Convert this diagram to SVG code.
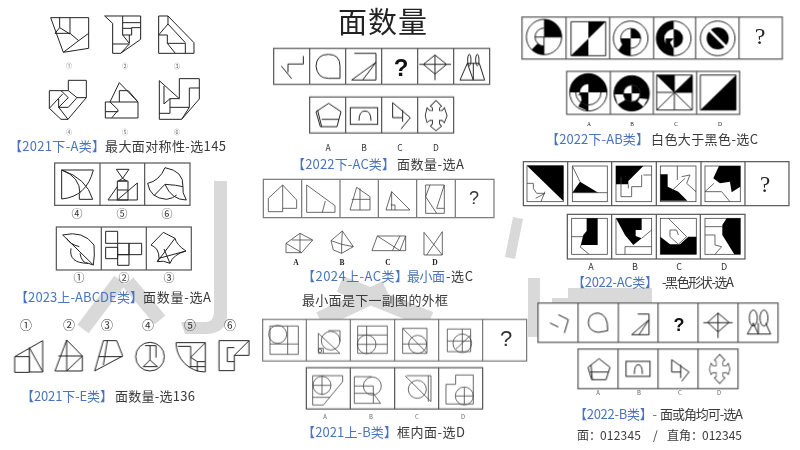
<svg xmlns="http://www.w3.org/2000/svg" width="800" height="450" viewBox="0 0 800 450">
<defs>
<filter id="soft" x="-2%" y="-2%" width="104%" height="104%"><feGaussianBlur stdDeviation="0.35"/></filter>
</defs>
<style>
.wm{fill:#d9d9d9;stroke:none}
.wl{fill:none;stroke:#d9d9d9;stroke-width:14}
.f{fill:none;stroke:#222;stroke-width:3;stroke-linejoin:miter}
.thin{fill:none;stroke:#444;stroke-width:2.4}
.pan{fill:#fff;stroke:#555;stroke-width:3.6}
.div{fill:none;stroke:#555;stroke-width:3.6}
.k{fill:#000;stroke:none}
.w{fill:#fff;stroke:none}
.fk{fill:#fff;stroke:#222;stroke-width:3}
text{font-family:"Noto Sans CJK SC","Liberation Sans",sans-serif}
.b{fill:#4a74bd;font-size:13px}
.d{fill:#3a3a3a;font-size:13px}
.n{fill:#333;font-size:11px;text-anchor:middle}
.s{fill:#666;text-anchor:middle;font-size:6px}
.serif{font-family:"Liberation Serif",serif;fill:#222;text-anchor:middle}
</style>
<rect width="800" height="450" fill="#fff"/>
<g id="watermark">
<path class="wl" d="M120 280L83 329M128 282L160 320"/>
<path class="wl" style="stroke-width:17" d="M340 284L430 320M386 289L320 320"/>
<path class="wm" d="M214 181H227V315Q227 334 205 334H185L181 322H205Q214 322 214 312Z"/>
<path class="wm" d="M513 217L523 219L515 259L505 257Z"/>
<rect class="wm" x="528" y="278" width="12" height="59"/>
<path class="wm" d="M568 288H652V303H552V298H568Z"/>
</g>
<g filter="url(#soft)">
<g id="panel-2021-A" transform="scale(.3333)">
<path class="f" d="M152 53H266V145L190 157ZM179 53V83L210 102V53M165 100L179 83M165 100H210L236 122M190 157L236 122L266 100"/>
<path class="f" d="M314 48H422V118L362 160H338V70ZM368 48V105H395V83H422M368 68H422M368 85H395M368 105L388 130V105M338 132H388L362 160"/>
<path class="f" d="M476 48H504L582 128V160H476ZM504 48V72L476 105H502V130H556V160M504 72L556 128M502 130L526 160"/>
<path class="f" d="M148 272H205V241H259V293L204 358H183L148 325ZM205 272L231 293H259M148 325L188 282M183 272L205 293L176 322H205L231 293M176 296V322L204 358"/>
<path class="f" d="M358 248L414 306V354H316V306H330ZM358 272V306M358 272H385L414 306M330 306H414M316 335H355M330 306L355 330L335 354"/>
<path class="f" d="M478 242V358H545L598 297V236H538V296H510L492 312V258M478 242L538 296M510 296V340H478M510 322H568V264H598M568 322L545 358"/>
</g>
<g id="panel-2023">
<g transform="translate(0,155) scale(.3333)">
<rect class="pan" x="164" y="24" width="406" height="127"/><path class="div" d="M300 24V151M434 24V151"/>
<rect class="pan" x="169" y="216" width="405" height="129"/><path class="div" d="M304 216V345M439 216V345"/>
<path class="f" d="M185 45H280M185 45V132Q260 125 280 45M185 45Q260 70 278 133H238V115M185 45Q240 65 240 115"/>
<path class="f" d="M349 43H387L368 70ZM368 70L355 78H380ZM352 78H384V135H352ZM352 105H384M324 135H412V84L352 135M324 135L352 95"/>
<path class="f" d="M443 85Q478 78 495 38Q552 48 549 95Q545 112 559 135Q515 135 495 88L462 122M443 85Q450 130 500 133Q520 130 530 120M495 88Q530 90 549 95"/>
<path class="f" d="M188 240Q250 225 282 270Q285 300 280 330ZM213 280Q205 325 265 325L280 330M200 250Q210 268 238 275M240 295Q245 325 265 325"/>
<path class="f" d="M317 229H353V265H317ZM353 265H387V299H353ZM387 265H425V299H387ZM317 277H353V311H317ZM353 299H387V331H353Z"/>
<path class="f" d="M490 232L525 250Q530 270 558 288Q520 298 510 325Q490 315 472 320L525 250M453 270L490 232M453 270Q478 280 477 310L472 320M477 310L558 288M492 282L510 325"/>
</g>
</g>
<g id="panel-2021-E" transform="translate(0,305) scale(.3333)">
<path class="f" d="M44 155H88V202H44ZM44 155L128 107V201H88V128M88 128L128 200"/>
<path class="f" d="M200 105L247 153V198H165ZM200 105V198M175 153H247M200 198L247 153"/>
<path class="f" d="M310 107H350L368 153L284 198ZM322 107L310 180M295 155H368"/>
<circle class="f" cx="450" cy="155" r="43"/>
<path class="f" d="M435 122H468M450 122V165M468 122V158M450 165L430 185H472Z"/>
<path class="f" d="M528 113H616V201A88 88 0 0 1 528 113ZM534 124H572V157M616 113L572 157L592 170H616M592 170V200M568 185H616M572 157V185"/>
<path class="f" d="M657 107H747V151H703V197H657ZM747 107L703 151M682 128H703M682 128V170H703"/>
</g>
<g id="panel-2022-AC-top" transform="translate(260,0) scale(.3333)">
<rect class="pan" x="41" y="145" width="648" height="108"/><path class="div" d="M149 145V253M257 145V253M365 145V253M473 145V253M581 145V253"/>
<rect class="pan" x="149" y="291" width="432" height="108"/><path class="div" d="M257 291V399M365 291V399M473 291V399"/>
<path class="f" d="M130 168V192H84V217M64 198L95 236"/>
<path class="f" d="M205 163Q170 163 168 198Q172 235 205 235H240V198Q240 163 205 163Z"/>
<path class="f" d="M283 160H348V240H275L348 187M308 240L348 187"/>
<path class="f" d="M525 165L560 193L525 222L490 193ZM478 193H573M525 165V240"/>
<path class="f" d="M600 240L622 190H658L674 240ZM622 190L640 240V190"/>
<ellipse class="f" cx="628" cy="180" rx="5" ry="17"/><ellipse class="f" cx="652" cy="180" rx="5" ry="17"/>
<path class="f" d="M206 310L243 335L231 380H181L168 335ZM173 331L185 380M185 358H237"/>
<rect class="f" x="271" y="323" width="82" height="50"/>
<path class="f" d="M297 362Q297 333 315 333Q333 333 333 362"/>
<path class="f" d="M398 308V353H428M398 308L451 353L423 387M428 330V365"/>
<path d="M528 306L540 318L535 322V335H548L552 330L558 347L552 362L548 358H535V372L540 378L528 388L516 378L521 372V358H508L503 362L499 347L503 330L508 335H521V322L516 318Z" fill="none" stroke="#222" stroke-width="9"/>
<path d="M528 306L540 318L535 322V335H548L552 330L558 347L552 362L548 358H535V372L540 378L528 388L516 378L521 372V358H508L503 362L499 347L503 330L508 335H521V322L516 318Z" fill="#fff" stroke="#fff" stroke-width="4"/>
</g>
<g id="panel-2024" transform="translate(260,175) scale(.3333)">
<rect class="pan" x="10" y="13" width="692" height="115" style="stroke:#777"/><path class="div" style="stroke:#777" d="M125 13V128M240 13V128M355 13V128M470 13V128M586 13V128"/>
<path class="thin" d="M25 110V70L68 30L110 75V100H68V30M25 110H68V100"/>
<path class="thin" d="M140 30L225 92V112H140ZM196 78L187 112"/>
<path class="thin" d="M290 37L330 65V105H270ZM300 40V105M275 73H330"/>
<path class="thin" d="M395 50L450 105H378ZM395 50V105M392 90H405V105"/>
<path class="thin" d="M497 30H553V115H497ZM510 30L497 65L530 115M553 30L530 100H553"/>
<path class="thin" d="M78 205L120 175L158 195L125 233H78ZM78 205L125 233M120 175V233M95 195H158"/>
<path class="thin" d="M213 197L247 168L280 215L245 235L220 225ZM213 197L245 208L247 168M245 208V235M245 208L280 215"/>
<path class="thin" d="M352 183H437V227H336ZM352 183L420 227M420 183L397 227M437 183L420 227"/>
<path class="thin" d="M492 172V240H547V170M492 172L547 240M547 170L500 240"/>
</g>
<g id="panel-2021-B" transform="translate(260,310) scale(.3333)">
<rect class="pan" x="8" y="28" width="792" height="125" style="stroke:#777"/><path class="div" style="stroke:#777" d="M139 28V153M271 28V153M404 28V153M536 28V153M668 28V153"/>
<rect class="pan" x="139" y="173" width="529" height="124"/><path class="div" d="M271 173V297M404 173V297M536 173V297"/>
<path class="thin" d="M30 48H115V133H30ZM30 102H115M83 48V133"/><circle class="thin" cx="53" cy="73" r="27"/>
<path class="thin" d="M175 70L240 130H175ZM175 115H190V130M205 62H240V95"/><circle class="thin" cx="212" cy="92" r="28"/><circle class="thin" cx="180" cy="122" r="5"/>
<path class="thin" d="M293 48H382V130H293ZM293 75H382M320 48V130M293 103H382"/><circle class="thin" cx="320" cy="103" r="28"/>
<path class="thin" d="M428 55H501V130H428ZM428 55L500 128M428 102H500"/><circle class="thin" cx="473" cy="103" r="27"/>
<path class="thin" d="M562 57H632V125H562ZM562 93H632M607 57V125M587 118L632 75"/><circle class="thin" cx="607" cy="100" r="28"/>
<path class="thin" d="M158 197H248V215L190 285H158ZM158 226H213M186 197V255M158 262H210"/><circle class="thin" cx="186" cy="226" r="27"/>
<path class="thin" d="M283 200H335M283 200V280H345M283 228H340V280M283 250H340M340 250L362 280H345"/><circle class="thin" cx="337" cy="228" r="27"/>
<path class="thin" d="M435 197L513 275M440 197H513V275M505 197V275"/><circle class="thin" cx="472" cy="238" r="27"/>
<path class="thin" d="M558 282V223H587V195H640V282ZM587 258H640M613 232V282"/><circle class="thin" cx="613" cy="258" r="27"/>
</g>
<g id="panel-2022-AB" transform="translate(515,5) scale(.3333)">
<rect class="pan" x="21" y="36" width="781" height="126"/><path class="div" d="M153 36V162M284 36V162M416 36V162M542 36V162M672 36V162"/>
<rect class="pan" x="155" y="199" width="519" height="129"/><path class="div" d="M286 199V328M415 199V328M545 199V328"/>
<circle class="f" cx="87" cy="96" r="53"/><path class="k" d="M87 96V43A53 53 0 0 1 140 96ZM87 149A53 53 0 0 1 50 134L68 115A27 27 0 0 0 87 123Z"/>
<circle class="f" cx="87" cy="96" r="27" style="stroke-dasharray:85 85;stroke-dashoffset:-42"/><path class="f" d="M87 96V149M87 96H140M60 96H87"/>
<path class="f" d="M168 50H272V152H168Z"/><path class="k" d="M220 50H272L168 152H220Z"/>
<circle class="f" cx="347" cy="100" r="52"/><circle class="f" cx="347" cy="100" r="30"/>
<path class="k" d="M347 100V70A30 30 0 0 1 377 100ZM347 100H317A30 30 0 0 0 322 118L310 136Q325 152 347 152V100Z"/>
<circle class="f" cx="476" cy="100" r="52"/>
<path class="k" d="M476 48A52 52 0 0 0 476 152V128A28 28 0 0 1 476 72ZM476 72A28 28 0 0 1 476 128Z"/>
<path class="k" d="M452 100H476L465 112L474 128H452Z"/>
<circle class="f" cx="608" cy="100" r="52"/><circle class="k" cx="608" cy="100" r="33"/>
<path d="M578 70L638 130" stroke="#fff" stroke-width="8" fill="none"/>
<circle class="f" cx="220" cy="262" r="56"/>
<path class="k" d="M164 262A56 56 0 0 1 276 262ZM195 262H220V318L190 305L200 285Z"/>
<path class="w" d="M220 262V237A25 25 0 0 0 195 262Z"/><path d="M190 272L220 262L195 262Z" class="k"/>
<path class="f" d="M182 262A38 38 0 0 0 258 262"/>
<circle class="f" cx="350" cy="265" r="53"/><circle cx="350" cy="265" r="39" fill="none" stroke="#000" stroke-width="28"/>
<path class="w" d="M299 268H326L330 285L308 298ZM374 280L398 282L385 305L368 290Z"/>
<circle class="fk" cx="350" cy="265" r="25"/><path class="k" d="M350 265V240A25 25 0 0 1 375 265ZM350 265H325A25 25 0 0 0 350 290Z"/>
<path class="f" d="M425 210H532V315H425ZM425 315L532 210M425 210L532 315M478 210V315M425 262H532"/>
<path class="k" d="M425 210H478V262ZM532 210V262H478Z"/>
<path class="f" d="M556 210H663V315H556Z"/><path class="k" d="M663 210V315H556Z"/>
</g>
<g id="panel-2022-AC" transform="translate(515,155) scale(.3333)">
<rect class="pan" x="25" y="20" width="797" height="132"/><path class="div" d="M158 20V152M290 20V152M424 20V152M558 20V152M690 20V152"/>
<rect class="pan" x="157" y="178" width="533" height="134"/><path class="div" d="M290 178V312M424 178V312M556 178V312"/>
<g class="thin">
<rect x="36" y="32" width="109" height="108"/><rect x="172" y="33" width="105" height="107"/><rect x="303" y="33" width="107" height="107"/><rect x="436" y="33" width="107" height="107"/><rect x="570" y="33" width="106" height="107"/>
<rect x="170" y="190" width="107" height="108"/><rect x="303" y="190" width="107" height="108"/><rect x="436" y="190" width="108" height="108"/><rect x="570" y="190" width="106" height="108"/>
</g>
<path class="k" d="M36 32H145V138Z"/><path class="thin" d="M36 85H55V100L65 115H90L62 130M90 110L78 140"/>
<path class="k" d="M195 80L250 113H172Z"/><path class="thin" d="M172 113H277M172 33L195 80"/>
<path class="k" d="M303 33H385L340 78V88H303Z"/><path class="thin" d="M385 60H410M380 60V95H350V125H318V67M340 88V100"/>
<path class="k" d="M436 58H458V95L490 110L517 137H436Z"/><path class="thin" d="M487 33V75M500 65L525 60L515 85L543 110M470 108L510 70"/>
<path class="k" d="M612 33H676V95L650 112L645 80L615 85L595 70Z"/><path class="thin" d="M570 110L597 85M570 110H620L645 140"/>
<path class="k" d="M215 190H248V270H200L195 280L205 240L215 228Z"/><path class="thin" d="M170 245H205M195 275L222 298"/>
<path class="k" d="M303 190H380V225H362V243L380 250L355 270L330 240Z"/><path class="thin" d="M330 275H410M330 275V298M380 250L410 225"/>
<path class="k" d="M436 245L465 268H495L520 245H544V298H436Z"/><path class="thin" d="M460 190L515 245L490 268L465 245V225H485L490 240"/>
<path class="k" d="M635 190H676V298H658L622 240V210Z"/><path class="thin" d="M570 215H622M570 240H600V270L620 275L600 298"/>
</g>
<g id="panel-2022-B" transform="translate(515,298) scale(.3333)">
<rect class="pan" x="69" y="15" width="720" height="118"/><path class="div" d="M189 15V133M310 15V133M429 15V133M549 15V133M669 15V133"/>
<rect class="pan" x="189" y="153" width="480" height="119"/><path class="div" d="M309 153V272M429 153V272M549 153V272"/>
<path class="f" d="M105 75L130 87M130 50L160 65L148 105"/>
<path class="f" d="M250 45Q220 45 220 75Q222 100 250 103L278 98Q280 50 250 45Z"/>
<path class="f" d="M368 48H402V110H350L402 65M372 110L402 65"/>
<path class="f" d="M609 45L642 73L609 102L578 73ZM565 74H653M609 45V120"/>
<ellipse class="f" cx="715" cy="60" rx="12" ry="24"/><ellipse class="f" cx="747" cy="60" rx="12" ry="24"/>
<path class="f" d="M697 108L715 75L730 108ZM730 108V75M730 108H767L752 75"/>
<path class="f" d="M252 182L285 208L273 245H230L219 208ZM225 222H280M228 200L232 245"/>
<rect class="f" x="333" y="190" width="72" height="45"/><path class="f" d="M358 228Q358 200 370 200Q382 200 382 228"/>
<path class="f" d="M470 185V222H497M470 185L522 222L500 250M497 200V240"/>
<path d="M614 172L627 186L622 190V205H635L639 200L643 213L639 226L635 222H622V236L627 240L614 254L601 240L606 236V222H593L589 226L585 213L589 200L593 205H606V190L601 186Z" fill="#fff" stroke="#222" stroke-width="6"/>
<path d="M614 172L627 186L622 190V205H635L639 200L643 213L639 226L635 222H622V236L627 240L614 254L601 240L606 236V222H593L589 226L585 213L589 200L593 205H606V190L601 186Z" fill="#fff" stroke="#fff" stroke-width="2"/>
</g>
</g>
<g id="labels">
<text x="338" y="33" font-size="29" fill="#222" textLength="89">面数量</text>
<text class="s" x="69" y="68">①</text><text class="s" x="125" y="68">②</text><text class="s" x="177" y="68">③</text>
<text class="s" x="69" y="134">④</text><text class="s" x="125" y="134">⑤</text><text class="s" x="177" y="134">⑥</text>
<text class="b" x="9" y="151" textLength="96">【2021下-A类】</text><text class="d" x="105" y="151" textLength="121">最大面对称性-选145</text>
<text class="n" x="77" y="218">④</text><text class="n" x="122" y="218">⑤</text><text class="n" x="167" y="218">⑥</text>
<text class="n" x="79" y="282">①</text><text class="n" x="124" y="282">②</text><text class="n" x="169" y="282">③</text>
<text class="b" x="15" y="302" textLength="128">【2023上-ABCDE类】</text><text class="d" x="143" y="302" textLength="68">面数量-选A</text>
<g><text class="n" x="26" y="330" style="font-size:12px">①</text><text class="n" x="69" y="330" style="font-size:12px">②</text><text class="n" x="107" y="330" style="font-size:12px">③</text><text class="n" x="148" y="330" style="font-size:12px">④</text><text class="n" x="190" y="330" style="font-size:12px">⑤</text><text class="n" x="230" y="330" style="font-size:12px">⑥</text></g>
<text class="b" x="21" y="401" textLength="92">【2021下-E类】</text><text class="d" x="115" y="401" textLength="80">面数量-选136</text>
<text x="401" y="76" font-weight="700" font-size="24" fill="#111" text-anchor="middle" style="font-family:'Liberation Sans',sans-serif">?</text>
<g style="fill:#333"><text x="328" y="151" font-size="8.5" text-anchor="middle">A</text><text x="364" y="151" font-size="8.5" text-anchor="middle">B</text><text x="400" y="151" font-size="8.5" text-anchor="middle">C</text><text x="436" y="151" font-size="8.5" text-anchor="middle">D</text></g>
<text class="b" x="292" y="169" textLength="103">【2022下-AC类】</text><text class="d" x="397" y="169" textLength="67">面数量-选A</text>
<text x="474" y="204" font-size="18" fill="#333" text-anchor="middle" style="font-family:'Liberation Sans',sans-serif">?</text>
<text class="serif" x="296" y="265" font-size="7.5" font-weight="700">A</text><text class="serif" x="342" y="265" font-size="7.5" font-weight="700">B</text><text class="serif" x="388" y="265" font-size="7.5" font-weight="700">C</text><text class="serif" x="435" y="265" font-size="7.5" font-weight="700">D</text>
<text class="b" x="302" y="281" textLength="106">【2024上-AC类】</text><text class="b" x="407" y="281" textLength="38">最小面</text><text class="d" x="446" y="281" textLength="27">-选C</text>
<text class="d" x="302" y="305" textLength="146">最小面是下一副图的外框</text>
<text x="506" y="346" font-size="22" fill="#333" text-anchor="middle" style="font-family:'Liberation Sans',sans-serif">?</text>
<text class="s" x="325" y="419">A</text><text class="s" x="371" y="419">B</text><text class="s" x="417" y="419">C</text><text class="s" x="463" y="419">D</text>
<text class="b" x="302" y="437" textLength="95">【2021上-B类】</text><text class="d" x="397" y="437" textLength="68">框内面-选D</text>
<text class="serif" x="760" y="44" font-size="24">?</text>
<text class="serif" x="589" y="126" font-size="5.5">A</text><text class="serif" x="632" y="126" font-size="5.5">B</text><text class="serif" x="676" y="126" font-size="5.5">C</text><text class="serif" x="720" y="126" font-size="5.5">D</text>
<text class="b" x="546" y="144" textLength="103">【2022下-AB类】</text><text class="d" x="651" y="144" textLength="107">白色大于黑色-选C</text>
<text class="serif" x="765" y="192" font-size="23">?</text>
<g style="fill:#333"><text x="591" y="270" font-size="9" text-anchor="middle">A</text><text x="635" y="270" font-size="9" text-anchor="middle">B</text><text x="679" y="270" font-size="9" text-anchor="middle">C</text><text x="724" y="270" font-size="9" text-anchor="middle">D</text></g>
<text class="b" x="572" y="287" textLength="86">【2022-AC类】</text><text class="d" x="662" y="287" textLength="72">-黑色形状-选A</text>
<text x="679" y="331" font-size="18" font-weight="700" fill="#111" text-anchor="middle" style="font-family:'Liberation Sans',sans-serif">?</text>
<text class="s" x="598" y="395">A</text><text class="s" x="639" y="395">B</text><text class="s" x="680" y="395">C</text><text class="s" x="719" y="395">D</text>
<text class="b" x="574" y="419" textLength="83">【2022-B类】-</text><text class="d" x="660" y="419" textLength="83">面或角均可-选A</text>
<text class="d" x="577" y="440" style="font-size:12px">面：</text><text class="d" x="600" y="440" textLength="41" style="font-size:12px">012345</text><text class="d" x="653" y="440" style="font-size:12px">/</text><text class="d" x="667" y="440" style="font-size:12px">直角：</text><text class="d" x="702" y="440" textLength="40" style="font-size:12px">012345</text>
</g>
</svg>
